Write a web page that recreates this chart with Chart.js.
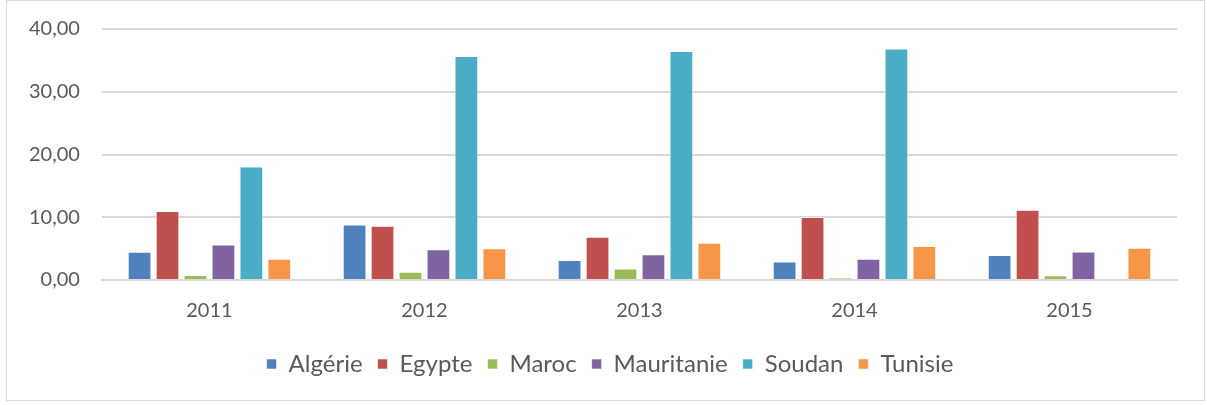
<!DOCTYPE html>
<html>
<head>
<meta charset="utf-8">
<script src="https://cdn.jsdelivr.net/npm/chart.js@4/dist/chart.umd.min.js"></script>
<style>
  html, body { margin: 0; padding: 0; background: #fff; }
  #wrap {
    position: absolute; left: 6px; top: 0; width: 1199px; height: 401px;
    border: 1px solid #d9d9d9; box-sizing: border-box; background: #fff;
  }
  canvas { display: block; }
</style>
</head>
<body>
<div id="wrap"><canvas id="chart"></canvas></div>
<script>
const years = ['2011', '2012', '2013', '2014', '2015'];
const algerie = [4.5, 8.85, 3.2, 2.95, 4.0];
const egypte = [11.0, 8.65, 6.9, 10.05, 11.2];
const maroc = [0.8, 1.3, 1.85, 0.3, 0.75];
const mauritanie = [5.65, 4.9, 4.1, 3.4, 4.55];
const soudan = [18.1, 35.7, 36.5, 36.9, null];
const tunisie = [3.4, 5.05, 5.95, 5.4, 5.15];
const yTicks = [0, 10, 20, 30, 40];

const colors = {
  algerie: '#4f81bd',
  egypte: '#c0504d',
  maroc: '#9bbb59',
  mauritanie: '#8064a2',
  soudan: '#4bacc6',
  tunisie: '#f79646'
};

const font = 'Lato, "Open Sans", sans-serif';
const grey = '#595959';

function ds(label, data, color) {
  return {
    label,
    data,
    backgroundColor: color,
    borderColor: 'rgba(255,255,255,0.6)',
    borderWidth: 1,
    barPercentage: 0.85,
    categoryPercentage: 0.78
  };
}

// the legend sits a bit right of the plot centre in the original
const legendShift = {
  id: 'legendShift',
  afterLayout(chart) {
    if (chart.legend) {
      chart.legend.left += 18;
      chart.legend.right += 18;
    }
  }
};

new Chart(document.getElementById('chart'), {
  type: 'bar',
  data: {
    labels: years,
    datasets: [
      ds('Algérie', algerie, colors.algerie),
      ds('Egypte', egypte, colors.egypte),
      ds('Maroc', maroc, colors.maroc),
      ds('Mauritanie', mauritanie, colors.mauritanie),
      ds('Soudan', soudan, colors.soudan),
      ds('Tunisie', tunisie, colors.tunisie)
    ]
  },
  plugins: [legendShift],
  options: {
    responsive: true,
    maintainAspectRatio: false,
    animation: false,
    layout: { padding: { left: 0, right: 27, top: 28, bottom: 14 } },
    scales: {
      x: {
        grid: { display: false, drawTicks: false },
        border: { color: '#d9d9d9', width: 2 },
        ticks: { color: grey, font: { family: font, size: 20 }, padding: 19 },
        afterFit(axis) {
          axis.height -= 5;
        }
      },
      y: {
        min: yTicks[0],
        max: yTicks[yTicks.length - 1],
        afterBuildTicks(axis) {
          axis.ticks = yTicks.map(v => ({ value: v }));
        },
        afterFit(axis) {
          axis.paddingTop = 0;
          axis.paddingBottom = 0;
        },
        grid: { color: '#d9d9d9', lineWidth: 2, drawTicks: false },
        border: { display: false },
        ticks: {
          color: grey,
          font: { family: font, size: 20 },
          padding: 22,
          callback: v => v.toFixed(2).replace('.', ',')
        }
      }
    },
    plugins: {
      legend: {
        position: 'bottom',
        labels: {
          color: grey,
          font: { family: font, size: 24 },
          boxWidth: 10,
          boxHeight: 10,
          padding: 15
        }
      },
      tooltip: { enabled: false }
    }
  }
});
</script>
</body>
</html>
